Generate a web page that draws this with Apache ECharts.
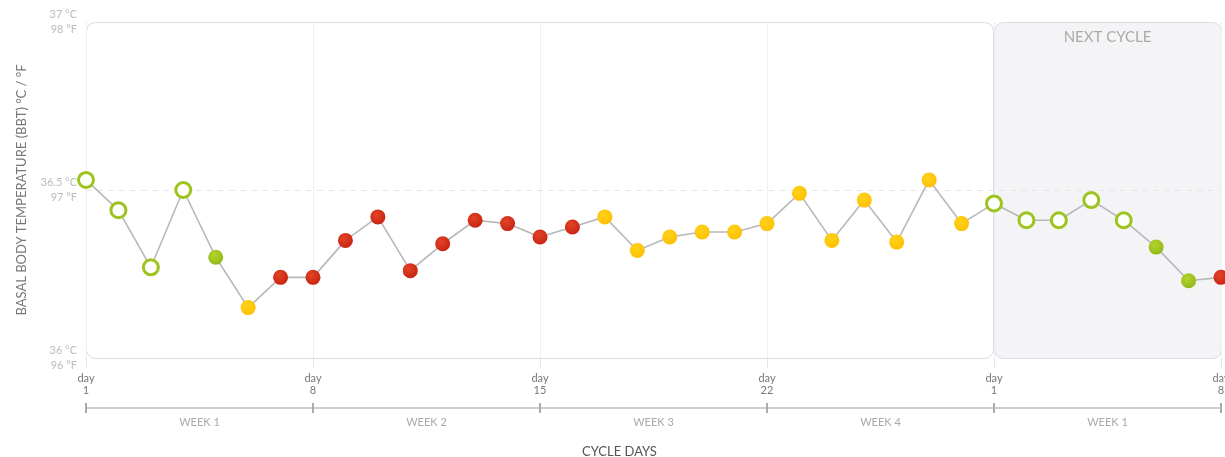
<!doctype html>
<html lang="en">
<head>
    <meta charset="UTF-8">
    <title>BBT chart</title>
    <script src="https://cdn.jsdelivr.net/npm/echarts@6/dist/echarts.min.js"></script>
    <style>
        html, body { margin: 0; padding: 0; background: #fff; }
        #bbtChart { width: 1225px; height: 457px; }
    </style>
</head>
<body>
    <div id="bbtChart"></div>

    <script>
        // --- data ---
        const dayLabels = ['1', '8', '15', '22', '1', '8'];
        const weekLabels = ['WEEK 1', 'WEEK 2', 'WEEK 3', 'WEEK 4', 'WEEK 1'];
        const yTickValues = [36, 36.5, 37];
        const yTickLabels = ['36 °C\n96 °F', '36.5 °C\n97 °F', '37 °C\n98 °F'];
        const cycleLength = 28;
        const lastDay = 35;

        const temps = [
            36.53, 36.44, 36.27, 36.50, 36.30, 36.15, 36.24, 36.24, 36.35, 36.42,
            36.26, 36.34, 36.41, 36.40, 36.36, 36.39, 36.42, 36.32, 36.36, 36.375,
            36.375, 36.40, 36.49, 36.35, 36.47, 36.345, 36.53, 36.40,
            36.46, 36.41, 36.41, 36.47, 36.41, 36.33, 36.23, 36.24
        ];
        // o = open green, g = green, y = yellow, r = red
        const states = [
            'o', 'o', 'o', 'o', 'g', 'y', 'r', 'r', 'r', 'r',
            'r', 'r', 'r', 'r', 'r', 'r', 'y', 'y', 'y', 'y',
            'y', 'y', 'y', 'y', 'y', 'y', 'y', 'y',
            'o', 'o', 'o', 'o', 'o', 'g', 'g', 'r'
        ];

        function ball(inner, outer) {
            return {
                type: 'radial', x: 0.4, y: 0.35, r: 0.7,
                colorStops: [{ offset: 0, color: inner }, { offset: 1, color: outer }]
            };
        }
        const markerStyles = {
            o: { color: '#ffffff', borderColor: '#9dc41c', borderWidth: 3 },
            g: { color: ball('#b5d42c', '#8fb81a'), borderWidth: 0 },
            y: { color: ball('#ffd21a', '#ffbf00'), borderWidth: 0 },
            r: { color: ball('#e24426', '#c72212'), borderWidth: 0 }
        };

        const points = temps.map((t, i) => ({
            value: [i, t],
            itemStyle: markerStyles[states[i]]
        }));

        const chart = echarts.init(document.getElementById('bbtChart'));
        const fontFamily = 'Lato, "Open Sans", sans-serif';

        chart.setOption({
            animation: false,
            textStyle: { fontFamily: fontFamily },
            title: {
                text: 'CYCLE DAYS', left: 577, top: 440,
                textStyle: { fontSize: 13, fontWeight: 'normal', color: '#555', fontFamily: fontFamily }
            },
            grid: { left: 86, right: 4, top: 22, bottom: 99, outerBoundsMode: 'none', containLabel: false },
            xAxis: [{
                type: 'value', min: 0, max: lastDay, interval: 7,
                axisLine: { show: false },
                axisTick: { show: true, length: 10, lineStyle: { color: '#e6e6ea' } },
                splitLine: { show: true, lineStyle: { color: '#efeff2' } },
                axisLabel: {
                    margin: 14, color: '#777', fontSize: 11, lineHeight: 12,
                    formatter: v => 'day\n' + dayLabels[Math.round(v / 7)]
                }
            }, {
                type: 'category', data: weekLabels, position: 'bottom', offset: 50,
                boundaryGap: true,
                axisLine: { show: true, lineStyle: { color: '#cfcfd2', width: 2 } },
                axisTick: { show: true, length: 5, lineStyle: { color: '#aaa', width: 2 } },
                axisLabel: { margin: 9, color: '#aaa', fontSize: 11 }
            }, {
                type: 'category', data: weekLabels, position: 'bottom', offset: 50,
                boundaryGap: true,
                axisLine: { show: false },
                axisTick: { show: true, inside: true, length: 5, lineStyle: { color: '#aaa', width: 2 } },
                axisLabel: { show: false }
            }],
            yAxis: {
                type: 'value', min: 36, max: 37, interval: 0.5,
                name: 'BASAL BODY TEMPERATURE (BBT) °C / °F',
                nameLocation: 'middle', nameGap: 58, nameRotate: 90,
                nameTextStyle: { color: '#777', fontSize: 13 },
                axisLine: { show: false },
                axisTick: { show: false },
                splitLine: { show: false },
                axisLabel: {
                    margin: 9, color: '#bbb', fontSize: 11, lineHeight: 15,
                    padding: [5, 0, 0, 0],
                    formatter: v => yTickLabels[yTickValues.indexOf(v)] || ''
                }
            },
            series: [{
                type: 'line',
                data: points,
                clip: false,
                symbol: 'circle',
                symbolSize: 15,
                lineStyle: { color: '#b8b8bc', width: 1.6 },
                z: 5,
                markLine: {
                    silent: true, symbol: 'none',
                    label: { show: false },
                    lineStyle: { color: '#e6e6e6', type: [6, 5], width: 1 },
                    data: [{ yAxis: 36.5 }]
                }
            }]
        });

        // rounded boxes for the current and the next cycle, placed through the axes
        const topLeft = chart.convertToPixel({ gridIndex: 0 }, [0, 37]);
        const mid = chart.convertToPixel({ gridIndex: 0 }, [cycleLength, 36]);
        const end = chart.convertToPixel({ gridIndex: 0 }, [lastDay, 36]);
        chart.setOption({
            graphic: [{
                type: 'rect', z: -10, silent: true,
                shape: { x: topLeft[0] + 0.5, y: topLeft[1] + 0.5, width: mid[0] - topLeft[0] - 1, height: mid[1] - topLeft[1], r: 9 },
                style: { fill: '#ffffff', stroke: '#dcdce2', lineWidth: 1 }
            }, {
                type: 'rect', z: -10, silent: true,
                shape: { x: mid[0] + 0.5, y: topLeft[1] + 0.5, width: end[0] - mid[0], height: mid[1] - topLeft[1], r: 9 },
                style: { fill: '#f4f4f7', stroke: '#dcdce2', lineWidth: 1 }
            }, {
                type: 'text', z: 1, silent: true,
                style: {
                    text: 'NEXT CYCLE', x: (mid[0] + end[0]) / 2, y: topLeft[1] + 8,
                    align: 'center', fill: '#aaa', fontSize: 15, fontFamily: fontFamily
                }
            }]
        });
    </script>
</body>
</html>
